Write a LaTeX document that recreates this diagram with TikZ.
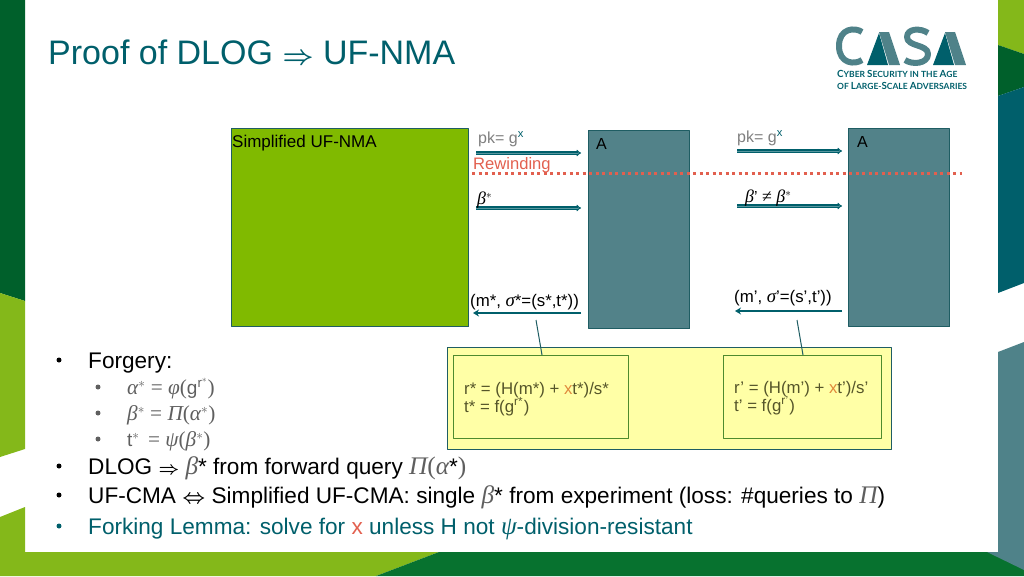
\documentclass[tikz,border=0pt]{standalone}
\usepackage{fix-cm}
\usepackage{fontspec}
\setmainfont{Liberation Sans}
\newfontfamily\logofont{Lato}
\newfontfamily\greekfont[Scale=1.12]{Liberation Serif}
\usetikzlibrary{arrows.meta}
\definecolor{lightgreen}{HTML}{84B81A}
\definecolor{darkgreen}{HTML}{00602B}
\definecolor{midgreen}{HTML}{07722F}
\definecolor{casateal}{HTML}{005F6B}
\definecolor{paleteal}{HTML}{4F8289}
\definecolor{boxteal}{HTML}{528289}
\definecolor{boxgreen}{HTML}{80BA00}
\definecolor{edgeteal}{HTML}{1F5D63}
\definecolor{noteyellow}{HTML}{FFFFA6}
\definecolor{noteedge}{HTML}{4E8B2E}
\definecolor{notetext}{HTML}{55552A}
\definecolor{rewindred}{HTML}{E2604F}
\definecolor{xorange}{HTML}{E08A3C}
\definecolor{subgray}{HTML}{5F5F5F}
\definecolor{pkgray}{HTML}{7F7F7F}
\newcommand{\fs}[1]{\fontsize{#1}{#1}\selectfont}
\newcommand{\lc}[1]{{\fs{9.8}#1}}
\newcommand{\gk}[1]{{\greekfont\itshape #1}}
\newcommand{\gu}[1]{{\greekfont #1}}
\newcommand{\gy}[1]{\textcolor{subgray}{\gk{#1}}}
\newcommand{\impl}{{\fs{18}\boldmath$\Rightarrow$}}
\newcommand{\iffl}{{\fs{20}\boldmath$\Leftrightarrow$}}
\begin{document}
\begin{tikzpicture}[x=1pt,y=-1pt,line join=round,>=stealth]
	\tikzset{
		every node/.style={inner sep=0pt,anchor=base west},
		bigbox/.style={draw=edgeteal,line width=1pt,anchor=north west},
		notebox/.style={draw=noteedge,line width=1pt,fill=noteyellow,anchor=north west,minimum height=83pt},
		msgarrow/.style={draw=casateal,double=white!35!casateal,double distance=0.9pt,line width=1.1pt,-{Implies}},
		backarrow/.style={draw=casateal,line width=2.6pt,-{Stealth[length=6pt,width=7pt]}},
		lbl/.style={font=\fs{16}},
		notelbl/.style={font=\fs{16.8},text=notetext},
		mainitem/.style={font=\fs{22.6}},
		subitem/.style={font=\fs{19},text=subgray},
		dotmain/.style={fill=black,circle,minimum size=5pt,anchor=center},
		dotsub/.style={fill=subgray,circle,minimum size=5pt,anchor=center},
		tagline/.style={font=\logofont\bfseries\fs{8.5},text=casateal}
	}
	\useasboundingbox (0,0) rectangle (1024,576);
	% slide frame
	\fill[darkgreen] (0,0)--(25,0)--(25,301)--(0,293)--cycle;
	\fill[lightgreen] (0,293)--(25,301)--(25,449)--(0,457)--cycle;
	\fill[lightgreen] (0,517)--(25,507)--(25,552)--(439,552)--(376,576)--(0,576)--cycle;
	\fill[midgreen] (439,552)--(1024,552)--(1024,576)--(376,576)--cycle;
	\fill[lightgreen] (998,0)--(1024,0)--(1024,54)--(998,45)--cycle;
	\fill[darkgreen] (998,45)--(1024,54)--(1024,87)--(998,96)--cycle;
	\fill[casateal] (998,96)--(1024,87)--(1024,283)--(998,293)--cycle;
	\fill[paleteal] (998,352)--(1024,342)--(1024,570)--(987,552)--(998,552)--cycle;
	% logo
	\draw[paleteal,line width=6pt] (862,32) .. controls (855,27) and (839,28) .. (839,46) .. controls (839,64) and (855,65) .. (862,60);
	\draw[paleteal,line width=6pt] (928,33) .. controls (921,28) and (907,28) .. (907,37) .. controls (907,47) and (928,44) .. (928,54) .. controls (928,64) and (912,65) .. (905,60);
	\foreach \ax in {0,66}{
		\fill[casateal] (867+\ax,65)--(879+\ax,33)--(888+\ax,65)--(876+\ax,65)--cycle;
		\fill[paleteal] (879+\ax,32)--(889+\ax,32)--(900+\ax,65)--(889+\ax,65)--cycle;
	}
	\node[tagline] (tagone) at (837,77) {\lc{C}YBER \lc{S}ECURITY IN THE \lc{A}GE};
	\node[tagline] (tagtwo) at (837,89) {OF \lc{L}ARGE-\lc{S}CALE \lc{A}DVERSARIES};
	% title
	\node[font=\fs{34},text=casateal] (title) at (48,64) {Proof of DLOG {\fs{27}\boldmath$\Rightarrow$} UF-NMA};
	% game boxes
	\node[bigbox,fill=boxgreen,minimum width=237pt,minimum height=198pt] (sim) at (231,128) {};
	\node[bigbox,fill=boxteal,minimum width=101pt,minimum height=198pt] (advone) at (588,130) {};
	\node[bigbox,fill=boxteal,minimum width=101pt,minimum height=198pt] (advtwo) at (848,128) {};
	\node[font=\fs{17}] (simlbl) at (232,147) {Simplified UF-NMA};
	\node[lbl] (advonelbl) at (596,149) {A};
	\node[lbl] (advtwolbl) at (857,147) {A};
	% first run
	\coordinate (pka) at (476,153);
	\coordinate (pkb) at (581,153);
	\coordinate (bsa) at (476,208);
	\coordinate (bsb) at (581,208);
	\coordinate (sga) at (581,313);
	\coordinate (sgb) at (473,313);
	\draw[msgarrow] (pka)--(pkb);
	\draw[msgarrow] (bsa)--(bsb);
	\draw[backarrow] (sga)--(sgb);
	\node[lbl,text=pkgray] (pkone) at (478,143) {pk= g\textsuperscript{\textcolor{casateal}{x}}};
	\node[font=\fs{16.6},text=rewindred] (rewind) at (473,169) {Rewinding};
	\node[lbl] (betaone) at (477,204) {\gk{β}$^*$};
	\node[font=\fs{16.8}] (sigone) at (470,306) {(m*, \gk{σ}*=(s*,t*))};
	% second run
	\coordinate (pkc) at (737,151);
	\coordinate (pkd) at (842,151);
	\coordinate (bsc) at (737,206);
	\coordinate (bsd) at (842,206);
	\coordinate (sgc) at (842,311);
	\coordinate (sgd) at (735,311);
	\draw[msgarrow] (pkc)--(pkd);
	\draw[msgarrow] (bsc)--(bsd);
	\draw[backarrow] (sgc)--(sgd);
	\node[lbl,text=pkgray] (pktwo) at (737,142) {pk= g\textsuperscript{\textcolor{casateal}{x}}};
	\node[lbl] (betatwo) at (745,202) {\gk{β}’ \gu{≠} \gk{β}$^*$};
	\node[font=\fs{16.8}] (sigtwo) at (734,302) {(m’, \gk{σ}’=(s’,t’))};
	% rewinding line
	\coordinate (rwa) at (472,173);
	\coordinate (rwb) at (962,173);
	\draw[rewindred,line width=3pt,dash pattern=on 3pt off 3.5pt] (rwa)--(rwb);
	% equations
	\node[bigbox,fill=noteyellow,minimum width=444pt,minimum height=102pt] (outer) at (447,347) {};
	\node[notebox,minimum width=175pt] (noteone) at (453,355) {};
	\node[notebox,minimum width=158pt] (notetwo) at (723,355) {};
	\node[notelbl] (eqa) at (464,394) {r* = (H(m*) + \textcolor{xorange}{x}t*)/s*};
	\node[notelbl] (eqb) at (464,412) {t* = f(g\textsuperscript{r*}\kern.6pt)};
	\node[notelbl] (eqc) at (734,393) {r’ = (H(m’) + \textcolor{xorange}{x}t’)/s’};
	\node[notelbl] (eqd) at (734,411) {t’ = f(g\textsuperscript{r’}\kern.6pt)};
	\coordinate (lka) at (536,320);
	\coordinate (lkb) at (797,320);
	\draw[edgeteal,line width=1pt] (lka)--([xshift=89pt]noteone.north west);
	\draw[edgeteal,line width=1pt] (lkb)--([xshift=80pt]notetwo.north west);
	% bullets
	\node[dotmain] (bua) at (59,360) {};
	\node[dotsub] (bub) at (98,387) {};
	\node[dotsub] (buc) at (98,413) {};
	\node[dotsub] (bud) at (98,439) {};
	\node[dotmain] (bue) at (59,466) {};
	\node[dotmain] (buf) at (59,495) {};
	\node[dotmain,fill=casateal] (bug) at (59,526) {};
	\node[mainitem] (forgery) at (88,368) {Forgery:};
	\node[subitem] (alpha) at (127,394) {\gk{α}$^*$ \gu{=} \gk{φ}\gu{(}g\textsuperscript{r$^*$}\gu{)}};
	\node[subitem] (beta) at (127,420) {\gk{β}$^*$ \gu{=} \gk{Π}\gu{(}\gk{α}$^*$\gu{)}};
	\node[subitem] (tee) at (127,446) {t$^*$\, \gu{=} \gk{ψ}\gu{(}\gk{β}$^*$\gu{)}};
	\node[mainitem] (dlog) at (88,474) {DLOG \impl{} \gy{β}* from forward query \gy{Π}\textcolor{subgray}{\gu{(}}\gy{α}*\textcolor{subgray}{\gu{)}}};
	\node[mainitem] (cma) at (88,503) {UF-CMA \iffl{} Simplified UF-CMA: single \gy{β}* from experiment (loss: \#queries to \gy{Π})};
	\node[mainitem,text=casateal] (fork) at (88,534) {Forking Lemma: solve for \textcolor{rewindred}{x} unless H not \gk{ψ}-division-resistant};
\end{tikzpicture}
\end{document}
